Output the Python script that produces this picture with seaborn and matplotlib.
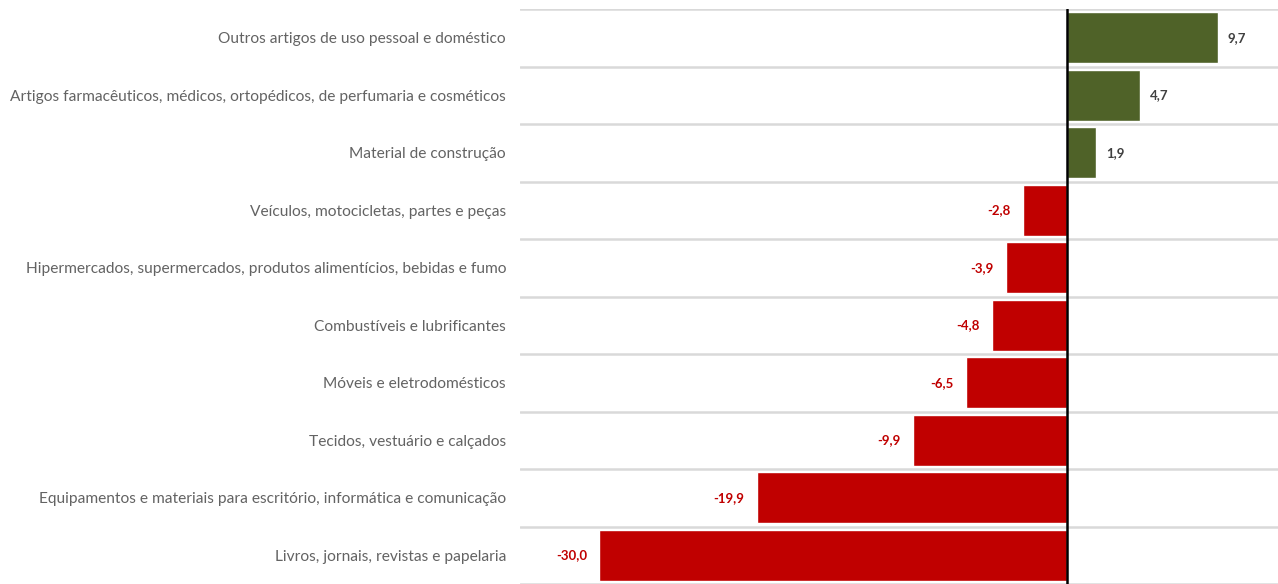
import matplotlib
matplotlib.use("Agg")
import matplotlib.pyplot as plt
import seaborn as sns
import pandas as pd

categories = [
    "Outros artigos de uso pessoal e doméstico",
    "Artigos farmacêuticos, médicos, ortopédicos, de perfumaria e cosméticos",
    "Material de construção",
    "Veículos, motocicletas, partes e peças",
    "Hipermercados, supermercados, produtos alimentícios, bebidas e fumo",
    "Combustíveis e lubrificantes",
    "Móveis e eletrodomésticos",
    "Tecidos, vestuário e calçados",
    "Equipamentos e materiais para escritório, informática e comunicação",
    "Livros, jornais, revistas e papelaria",
]
values = [9.7, 4.7, 1.9, -2.8, -3.9, -4.8, -6.5, -9.9, -19.9, -30.0]

GREEN = "#4F6228"
RED = "#C00000"

sns.set_theme(style="white")
plt.rcParams["font.family"] = ["Lato", "DejaVu Sans"]

df = pd.DataFrame({"categoria": categories, "valor": values})
df["sinal"] = ["pos" if v >= 0 else "neg" for v in values]

fig = plt.figure(figsize=(12.78, 5.84), dpi=100)
ax = fig.add_axes([520 / 1278, 0.0, 1 - 520 / 1278, (584 - 9) / 584])

sns.barplot(data=df, x="valor", y="categoria", hue="sinal",
            palette={"pos": GREEN, "neg": RED}, dodge=False, width=0.89,
            orient="h", legend=False, ax=ax, saturation=1)

ax.set_xlim(-35.1, 13.55)
ax.set_ylim(len(categories) - 0.5, -0.5)

# row separators
for i in range(len(categories) + 1):
    ax.axhline(i - 0.5, color="#D9D9D9", lw=1.8, zorder=0)
ax.axvline(0, color="black", lw=1.8, zorder=3)

for i, v in enumerate(values):
    txt = f"{v:.1f}".replace(".", ",")
    if v >= 0:
        ax.annotate(txt, (v, i), xytext=(7, 0), textcoords="offset points",
                    ha="left", va="center", fontsize=9.5, fontweight="bold",
                    color="#404040")
    else:
        ax.annotate(txt, (v, i), xytext=(-9, 0), textcoords="offset points",
                    ha="right", va="center", fontsize=9.5, fontweight="bold",
                    color=RED)

ax.set_xlabel("")
ax.set_ylabel("")
ax.set_xticks([])
ax.tick_params(axis="y", length=0, pad=10, labelsize=11.2, labelcolor="#636363")
for s in ax.spines.values():
    s.set_visible(False)

fig.savefig("out.png", dpi=100)
